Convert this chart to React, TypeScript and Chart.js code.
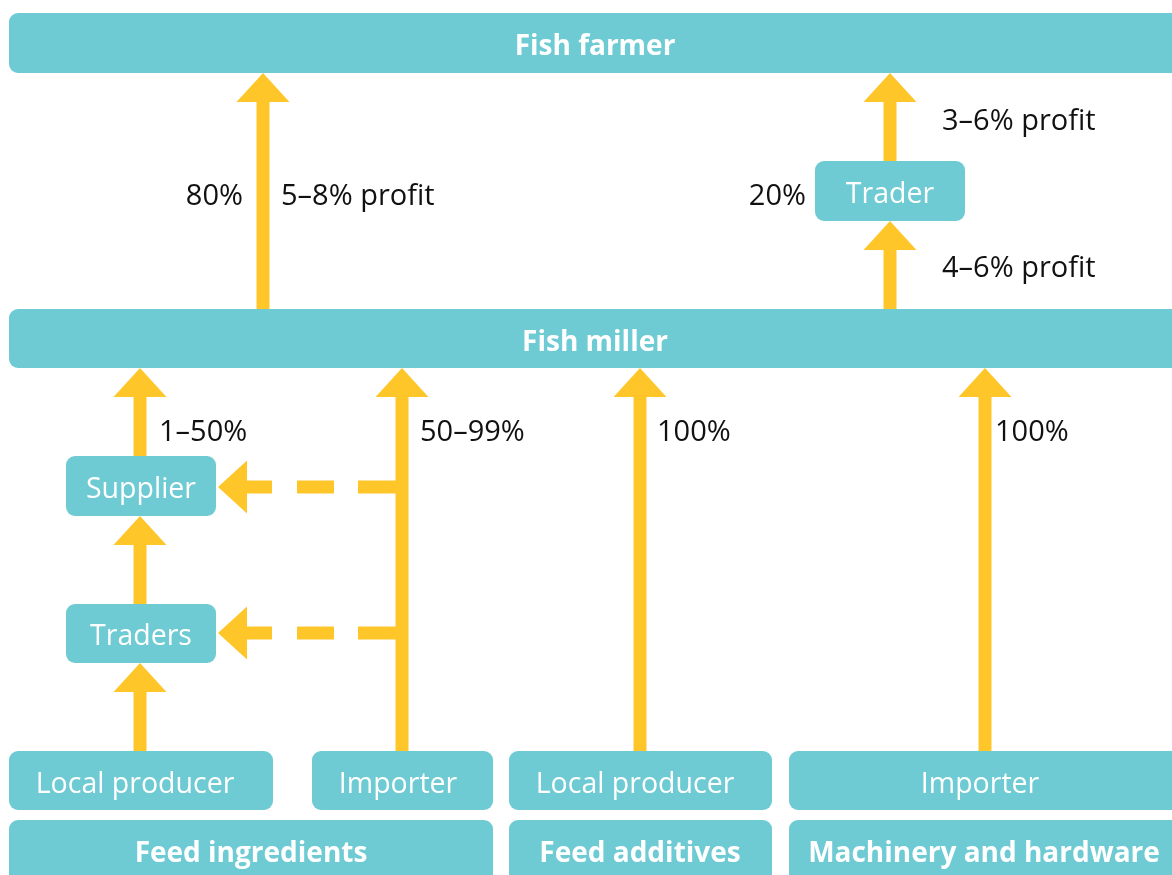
import React, { useEffect, useRef } from "react";
import { Chart, registerables } from "chart.js";

Chart.register(...registerables);

const TEAL = "#6ECBD3";
const YELLOW = "#FFC629";
const INK = "#111111";
const FONT = '"Open Sans", "Noto Sans", sans-serif';

// Boxes (diagram coordinates, y grows downward)
const boxLabels = [
  "Fish farmer", "Fish miller", "Trader", "Supplier", "Traders",
  "Local producer", "Importer", "Local producer", "Importer",
  "Feed ingredients", "Feed additives", "Machinery and hardware",
];
const boxLeft = [9, 9, 815, 66, 66, 9, 312, 509, 789, 9, 509, 789];
const boxRight = [1185, 1185, 965, 216, 216, 273, 493, 772, 1185, 493, 772, 1185];
const boxTop = [13, 309, 161, 456, 604, 751, 751, 751, 751, 820, 820, 820];
const boxBottom = [73, 368, 221, 516, 663, 810, 810, 810, 810, 890, 890, 890];
const boxBold = [true, true, false, false, false, false, false, false, false, true, true, true];
const boxTextX = [595, 595, 890, 141, 141, 135, 398, 635, 980, 251, 640, 984];
const boxTextY = [47, 343, 195, 490, 637, 785, 785, 785, 785, 854, 854, 854];

// Upward arrows: x, tail y, tip y
const arrowX = [263, 890, 890, 140, 140, 140, 402, 640, 985];
const arrowTail = [309, 161, 309, 456, 604, 751, 751, 751, 751];
const arrowTip = [73, 73, 221, 368, 516, 663, 368, 368, 368];

// Dashed leftward arrows from importer line to supplier/traders
const dashY = [487, 633];
const dashFrom = [402, 402];
const dashTip = [218, 218];

// Flow labels
const flowLabels = ["80%", "5–8% profit", "20%", "3–6% profit", "4–6% profit", "1–50%", "50–99%", "100%", "100%"];
const flowX = [243, 281, 806, 942, 942, 159, 420, 657, 995];
const flowY = [197, 197, 197, 122, 269, 433, 433, 433, 433];
const flowAlign: CanvasTextAlign[] = ["right", "left", "right", "left", "left", "left", "left", "left", "left"];

const SHAFT = 13;
const HEAD_W = 53;
const HEAD_L = 29;

const diagramPlugin = {
  id: "diagram",
  afterDraw(chart: any) {
    const ctx: CanvasRenderingContext2D = chart.ctx;
    const xs = chart.scales.x;
    const ys = chart.scales.y;
    const px = (v: number) => xs.getPixelForValue(v);
    const py = (v: number) => ys.getPixelForValue(v);
    ctx.save();

    // arrows
    ctx.fillStyle = YELLOW;
    ctx.strokeStyle = YELLOW;
    for (let i = 0; i < arrowX.length; i++) {
      const x = px(arrowX[i]);
      const tail = py(arrowTail[i]);
      const tip = py(arrowTip[i]);
      const base = tip + HEAD_L;
      ctx.fillRect(x - SHAFT / 2, base - 1, SHAFT, tail - base + 1);
      ctx.beginPath();
      ctx.moveTo(x, tip);
      ctx.lineTo(x + HEAD_W / 2, base);
      ctx.lineTo(x - HEAD_W / 2, base);
      ctx.closePath();
      ctx.fill();
    }

    for (let i = 0; i < dashY.length; i++) {
      const y = py(dashY[i]);
      const from = px(dashFrom[i]);
      const tip = px(dashTip[i]);
      const base = tip + HEAD_L;
      ctx.save();
      ctx.lineWidth = SHAFT;
      ctx.lineCap = "butt";
      ctx.setLineDash([44, 24, 37, 25, 40, 10]);
      ctx.beginPath();
      ctx.moveTo(from, y);
      ctx.lineTo(base, y);
      ctx.stroke();
      ctx.restore();
      ctx.beginPath();
      ctx.moveTo(tip, y);
      ctx.lineTo(base, y - HEAD_W / 2);
      ctx.lineTo(base, y + HEAD_W / 2);
      ctx.closePath();
      ctx.fill();
    }

    // boxes
    for (let i = 0; i < boxLabels.length; i++) {
      const x0 = px(boxLeft[i]);
      const x1 = px(boxRight[i]);
      const y0 = py(boxTop[i]);
      const y1 = py(boxBottom[i]);
      ctx.fillStyle = TEAL;
      ctx.beginPath();
      (ctx as any).roundRect(x0, y0, x1 - x0, y1 - y0, 9);
      ctx.fill();
      ctx.fillStyle = "#FFFFFF";
      ctx.textAlign = "center";
      ctx.textBaseline = "middle";
      ctx.font = boxBold[i] ? `bold 28px ${FONT}` : `28.5px ${FONT}`;
      ctx.fillText(boxLabels[i], px(boxTextX[i]), py(boxTextY[i]));
    }

    // labels
    ctx.fillStyle = INK;
    ctx.textBaseline = "middle";
    ctx.font = `29px ${FONT}`;
    for (let i = 0; i < flowLabels.length; i++) {
      ctx.textAlign = flowAlign[i];
      ctx.fillText(flowLabels[i], px(flowX[i]), py(flowY[i]));
    }
    ctx.restore();
  },
};

export default function App() {
  const ref = useRef<HTMLCanvasElement | null>(null);
  useEffect(() => {
    if (!ref.current) return;
    const chart = new Chart(ref.current, {
      type: "scatter",
      data: { datasets: [{ data: [], pointRadius: 0 }] },
      options: {
        animation: false,
        responsive: false,
        layout: { padding: 0 },
        plugins: { legend: { display: false }, tooltip: { enabled: false } },
        scales: {
          x: { type: "linear", min: 0, max: 1172, display: false },
          y: { type: "linear", min: 0, max: 875, reverse: true, display: false },
        },
      },
      plugins: [diagramPlugin],
    });
    return () => chart.destroy();
  }, []);
  return (
    <div style={{ position: "fixed", left: 0, top: 0, width: 1172, height: 875, background: "#fff" }}>
      <canvas ref={ref} width={1172} height={875} style={{ display: "block" }} />
    </div>
  );
}
